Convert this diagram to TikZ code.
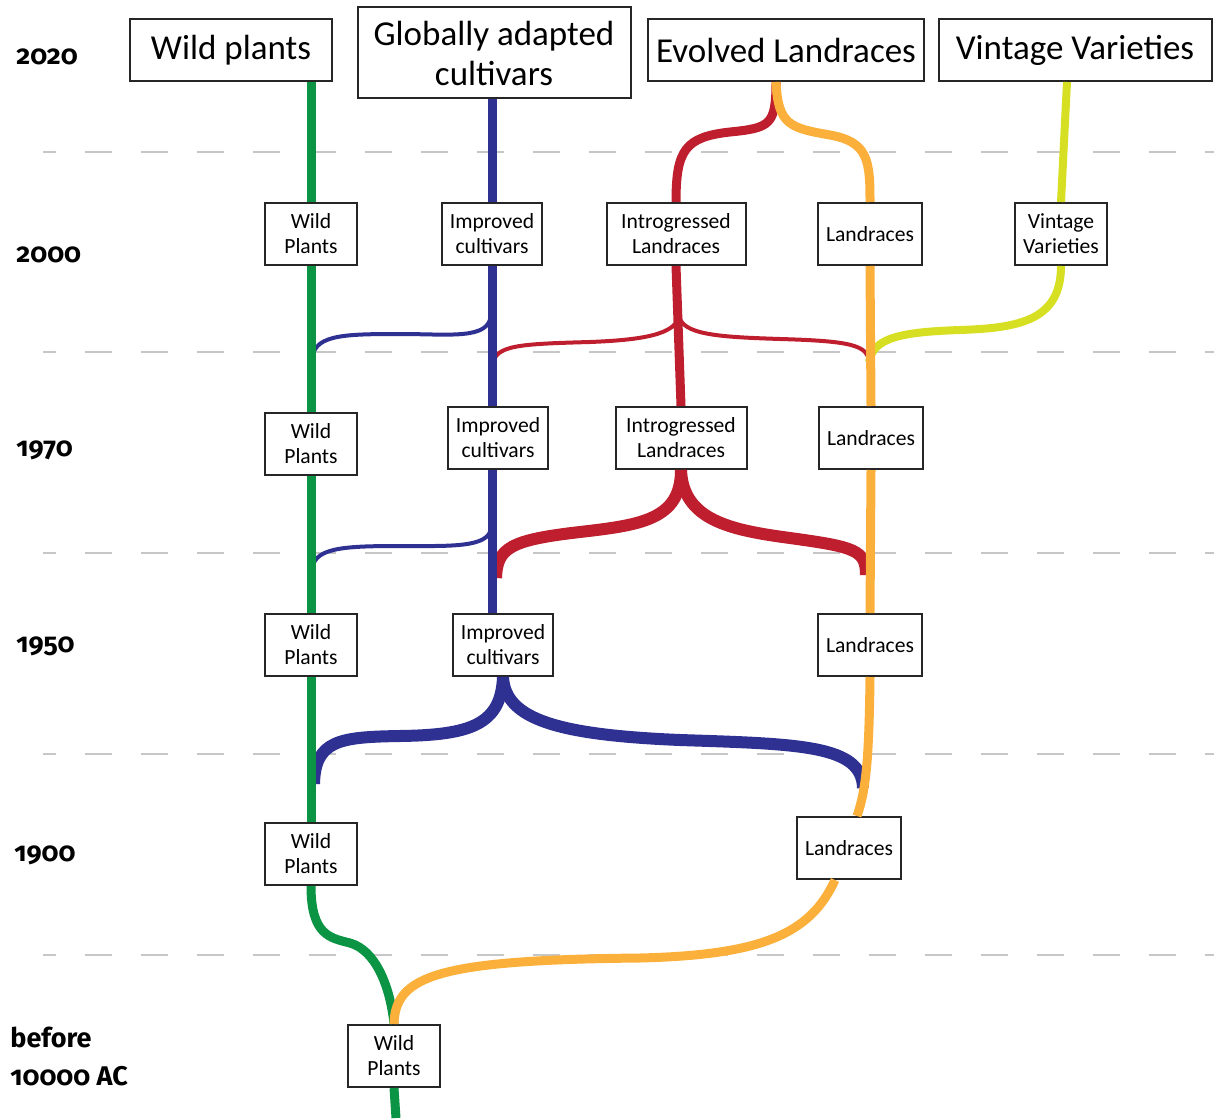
\documentclass[tikz,border=0pt]{standalone}
\usepackage{fontspec}
\setmainfont{Carlito}
\newfontfamily\yearfont{Fira Sans}[Numbers=OldStyle]
\definecolor{wildgreen}{RGB}{11,148,68}
\definecolor{cultblue}{RGB}{46,49,146}
\definecolor{introred}{RGB}{190,30,45}
\definecolor{landorange}{RGB}{251,176,59}
\definecolor{vintyellow}{RGB}{215,223,35}
\usepackage{tikz}

\begin{document}
\begin{tikzpicture}[x=0.5pt, y=-0.5pt]
                \tikzstyle{hb} = [draw=black!85, line width=1pt, fill=white, rectangle, minimum height=31pt, inner xsep=4pt, align=center, font=\fontsize{17.5}{20}\selectfont]
                \tikzstyle{sb} = [draw=black!85, line width=1pt, fill=white, rectangle, minimum height=31pt, minimum width=46pt, inner xsep=4pt, align=center, font=\fontsize{10.8}{12.5}\selectfont]
                \tikzstyle{yr} = [anchor=west, inner sep=0pt, align=left, font=\yearfont\fontsize{13.5}{19}\selectfont\bfseries]
                \tikzstyle{grid} = [draw=black!22, line width=1pt, dash pattern=on 13.5pt off 14.5pt, dash phase=7pt]
                \tikzstyle{gl} = [draw=wildgreen, line width=4.5pt]
                \tikzstyle{bl} = [draw=cultblue, line width=4.5pt]
                \tikzstyle{rl} = [draw=introred, line width=4.5pt]
                \tikzstyle{ol} = [draw=landorange, line width=4.5pt]
                \tikzstyle{yl} = [draw=vintyellow, line width=4pt]
                \tikzstyle{br} = [line width=2pt]
                \tikzstyle{fat} = [line width=6pt]

                \useasboundingbox (0,0) rectangle (1214,1118);

                % time grid
                \foreach \y in {152,352,553,754,955}
                    \draw [grid] (43,\y) -- (1214,\y);

                % years
                \node [yr] (t2020) at (16,57) {2020};
                \node [yr] (t2000) at (16,255) {2000};
                \node [yr] (t1970) at (16,450) {1970};
                \node [yr] (t1950) at (16,646) {1950};
                \node [yr] (t1900) at (14,855) {1900};
                \node [yr] (tfirst) at (10,1056) {before\\10000 AC};

                % today
                \node [hb, minimum width=101pt] (hwild) at (231,50) {Wild plants};
                \node [hb, minimum width=136.5pt, minimum height=45.5pt] (hglob) at (494,53) {Globally adapted\\cultivars};
                \node [hb, minimum width=135.5pt] (hevol) at (786,50) {Evolved Landraces};
                \node [hb, minimum width=136.5pt] (hvint) at (1075,50) {Vintage Varieties};

                % 2000
                \node [sb] (wp00) at (311,234) {Wild\\Plants};
                \node [sb] (ic00) at (492,234) {Improved\\cultivars};
                \node [sb, minimum width=69.5pt] (il00) at (676,234) {Introgressed\\Landraces};
                \node [sb] (lr00) at (870,234) {Landraces};
                \node [sb] (vv00) at (1061,234) {Vintage\\Varieties};

                % 1970
                \node [sb] (wp70) at (311,444) {Wild\\Plants};
                \node [sb] (ic70) at (498,438) {Improved\\cultivars};
                \node [sb, minimum width=65.5pt] (il70) at (681,438) {Introgressed\\Landraces};
                \node [sb] (lr70) at (871,438) {Landraces};

                % 1950
                \node [sb] (wp50) at (311,645) {Wild\\Plants};
                \node [sb] (ic50) at (503,645) {Improved\\cultivars};
                \node [sb] (lr50) at (870,645) {Landraces};

                % 1900
                \node [sb] (wp19) at (311,854) {Wild\\Plants};
                \node [sb] (lr19) at (849,848) {Landraces};

                % origin
                \node [sb] (wp0) at (394,1056) {Wild\\Plants};

                % joints on the lines
                \coordinate (jb1) at (491,315);
                \coordinate (jg1) at (312,362);
                \coordinate (jr1) at (679,315);
                \coordinate (jb1r) at (493,365);
                \coordinate (jo1) at (869,362);
                \coordinate (jb2) at (491,528);
                \coordinate (jg2) at (312,572);
                \coordinate (jb2r) at (496,578);
                \coordinate (jo2) at (866,575);
                \coordinate (jg3) at (314,784);
                \coordinate (jo3) at (863,788);
                \coordinate (gend) at (396,1118);

                \begin{scope}[line cap=butt]
                % branches
                \draw [bl, br] (jb1) .. controls (489,340) and (450,334) .. (400,334) .. controls (340,334) and (312,335) .. (jg1);
                \draw [bl, br] (jb2) .. controls (489,548) and (450,546) .. (400,546) .. controls (340,546) and (312,548) .. (jg2);
                \draw [rl, br] (jr1) .. controls (677,335) and (640,340) .. (590,342) .. controls (520,344) and (494,345) .. (jb1r);
                \draw [rl, br] (jr1) .. controls (681,335) and (720,337) .. (780,339) .. controls (850,341) and (868,345) .. (jo1);
                \draw [yl] (vv00.south) .. controls (1061,320) and (1020,328) .. (960,330) .. controls (900,332) and (873,338) .. (jo1);
                \draw [rl, fat] (il70.south) .. controls (681,520) and (640,525) .. (580,532) .. controls (510,540) and (497,548) .. (jb2r);
                \draw [rl, fat] (il70.south) .. controls (683,520) and (730,530) .. (790,538) .. controls (855,547) and (866,550) .. (jo2);
                \draw [bl, fat] (ic50.south) .. controls (501,725) and (470,735) .. (400,736) .. controls (340,737) and (315,740) .. (jg3);
                \draw [bl, fat] (ic50.south) .. controls (505,720) and (560,735) .. (680,740) .. controls (800,744) and (862,745) .. (jo3);

                % wild plants
                \draw [gl] (wp00.north |- hwild.south) -- (wp00.north);
                \draw [gl] (wp00.south) -- (wp70.north);
                \draw [gl] (wp70.south) -- (wp50.north);
                \draw [gl] (wp50.south) -- (wp19.north);
                \draw [gl] (wp19.south) .. controls (311,935) and (330,938) .. (350,943) .. controls (375,950) and (390,985) .. (wp0.north);
                \draw [gl] (wp0.south) -- (gend);

                % cultivars
                \draw [bl] (ic00.north |- hglob.south) -- (ic00.north);
                \draw [bl] (ic00.south) -- (ic00.south |- ic70.north);
                \draw [bl] (ic70.south -| ic00.south) -- (ic00.south |- ic50.north);

                % landraces
                \draw [rl] ([xshift=-5pt]hevol.south) .. controls (776,125) and (770,128) .. (730,132) .. controls (685,137) and (676,150) .. (il00.north);
                \draw [ol] ([xshift=-5pt]hevol.south) .. controls (778,125) and (790,128) .. (830,135) .. controls (868,142) and (870,160) .. (lr00.north);
                \draw [rl] (il00.south) -- (il70.north);
                \draw [ol] (lr00.south) -- (lr70.north);
                \draw [ol] (lr70.south) -- (lr50.north);
                \draw [ol] (lr50.south) .. controls (869,760) and (866,790) .. ([xshift=4pt]lr19.north);
                \draw [ol] ([xshift=-7pt]lr19.south) .. controls (810,935) and (760,955) .. (640,958) .. controls (440,960) and (395,975) .. (wp0.north);

                % vintage
                \draw [yl] ([xshift=-4pt]hvint.south) -- (vv00.north);
                \end{scope}
            \end{tikzpicture}
\end{document}
